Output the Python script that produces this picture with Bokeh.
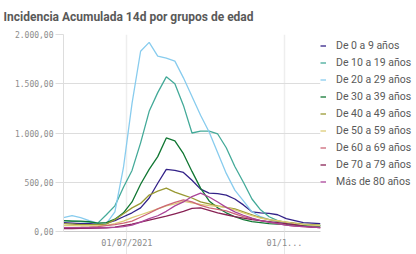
import pandas as pd
from datetime import datetime
from bokeh.plotting import figure
from bokeh.models import (Range1d, FixedTicker, CustomJSTickFormatter, Legend,
                          LegendItem, ColumnDataSource)
from bokeh.embed import file_html
from bokeh.resources import INLINE

# ---------------- data (every 5 days) ----------------
dates = pd.date_range("2021-05-25", periods=31, freq="5D")

g0_9 = [90, 85, 80, 80, 75, 85, 110, 150, 190, 240, 340, 490, 630, 620, 600, 520,
        430, 390, 385, 370, 330, 270, 200, 190, 185, 170, 130, 110, 90, 85, 80]
g10_19 = [110, 105, 100, 95, 85, 170, 260, 450, 620, 900, 1220, 1410, 1570, 1500, 1280, 1000,
          1020, 1020, 990, 850, 660, 500, 330, 220, 150, 110, 90, 80, 70, 65, 60]
g20_29 = [140, 160, 140, 110, 85, 80, 200, 650, 1300, 1830, 1920, 1780, 1760, 1730, 1560, 1370,
          1180, 1010, 800, 590, 420, 310, 200, 150, 120, 100, 80, 75, 70, 65, 60]
g30_39 = [110, 105, 105, 100, 85, 90, 125, 190, 300, 480, 630, 760, 950, 920, 790, 610,
          440, 310, 240, 190, 150, 120, 100, 90, 80, 75, 70, 65, 60, 55, 55]
g40_49 = [80, 75, 70, 70, 70, 75, 120, 180, 240, 285, 370, 410, 440, 400, 370, 340,
          300, 280, 260, 245, 230, 200, 170, 140, 120, 105, 95, 85, 75, 70, 65]
g50_59 = [60, 60, 58, 58, 58, 62, 80, 105, 140, 170, 200, 230, 260, 280, 305, 290,
          275, 262, 255, 245, 220, 190, 160, 135, 120, 110, 95, 80, 70, 65, 60]
g60_69 = [40, 40, 42, 45, 50, 60, 70, 85, 105, 145, 185, 230, 265, 295, 320, 300,
          265, 240, 225, 210, 180, 150, 130, 110, 95, 80, 65, 55, 50, 45, 40]
g70_79 = [30, 30, 32, 33, 35, 38, 45, 60, 75, 95, 115, 135, 155, 180, 205, 235,
          240, 215, 190, 170, 150, 135, 120, 110, 100, 90, 80, 70, 55, 45, 40]
g80 = [40, 40, 40, 38, 38, 40, 42, 50, 65, 95, 130, 160, 205, 260, 300, 355,
       390, 350, 300, 245, 200, 165, 135, 110, 95, 80, 65, 55, 50, 45, 40]

series_names = ["De 0 a 9 años", "De 10 a 19 años", "De 20 a 29 años", "De 30 a 39 años",
                "De 40 a 49 años", "De 50 a 59 años", "De 60 a 69 años", "De 70 a 79 años",
                "Más de 80 años"]
series_values = [g0_9, g10_19, g20_29, g30_39, g40_49, g50_59, g60_69, g70_79, g80]
colors = ["#332288", "#44aa99", "#88ccee", "#117733", "#999933", "#ddcc77",
          "#cc6677", "#882255", "#aa4499"]

y_ticks = [0, 500, 1000, 1500, 2000]
y_tick_labels = ["0,00", "500,00", "1.000,00", "1.500,00", "2.000,00"]
x_tick_dates = [datetime(2021, 7, 1), datetime(2021, 10, 1)]

# ---------------- figure ----------------
p = figure(frame_width=257, frame_height=197, output_backend="svg", toolbar_location=None,
           x_axis_type="datetime",
           x_range=Range1d(datetime(2021, 5, 25), datetime(2021, 10, 22)),
           y_range=Range1d(0, 2000),
           min_border_left=63, min_border_right=0, min_border_top=34, min_border_bottom=23)
p.outline_line_color = None
p.background_fill_color = "white"
p.border_fill_color = "white"

p.title.text = "Incidencia Acumulada 14d por grupos de edad"
p.title.text_font = "Roboto"
p.title.text_font_size = "12px"
p.title.text_font_style = "bold"
p.title.text_color = "#595959"
p.title.align = "left"
p.title.vertical_align = "top"
p.title.offset = -60
p.title.standoff = 17

renderers = []
for name, vals, col in zip(series_names, series_values, colors):
    src = ColumnDataSource(dict(x=list(dates), y=vals))
    r = p.line("x", "y", source=src, line_color=col, line_width=1.3)
    renderers.append((name, r))

# axes
xa = p.xaxis[0]
xa.ticker = FixedTicker(ticks=[d.timestamp() * 1000 for d in x_tick_dates])
xa.formatter = CustomJSTickFormatter(code="""
const d = new Date(tick);
const s = String(d.getUTCDate()).padStart(2,'0') + '/' + String(d.getUTCMonth()+1).padStart(2,'0') + '/' + d.getUTCFullYear();
return index == ticks.length - 1 ? s.slice(0, 4) + '...' : s;
""")
xa.minor_tick_line_color = None
xa.major_tick_in = 0
xa.major_tick_out = 23
xa.major_tick_line_color = "#e6e6e6"
xa.axis_line_color = "#cccccc"
xa.major_label_standoff = -17
xa.major_label_text_align = "left"
xa.major_label_text_font = "DejaVu Sans Mono"
xa.major_label_text_font_size = "8.5px"
xa.major_label_text_color = "#8c8c8c"

ya = p.yaxis[0]
ya.ticker = FixedTicker(ticks=y_ticks)
ya.major_label_overrides = dict(zip(y_ticks, y_tick_labels))
ya.minor_tick_line_color = None
ya.major_tick_in = 0
ya.major_tick_out = 8
ya.major_tick_line_color = "#dddddd"
ya.axis_line_color = "#dddddd"
ya.major_label_standoff = 2
ya.major_label_text_font = "DejaVu Sans Mono"
ya.major_label_text_font_size = "8px"
ya.major_label_text_color = "#8c8c8c"

p.xgrid.grid_line_color = "#eeeeee"
p.xgrid.grid_line_width = 1.5
p.ygrid.grid_line_color = "#dddddd"
p.ygrid.grid_line_width = 1

legend = Legend(items=[LegendItem(label=n, renderers=[r]) for n, r in renderers],
                location="top_left")
legend.title = " "
legend.title_text_font_size = "3px"
legend.title_standoff = 1
legend.border_line_color = None
legend.background_fill_alpha = 0
legend.padding = 4
legend.margin = 0
legend.spacing = 4
legend.label_height = 13
legend.glyph_height = 13
legend.glyph_width = 6
legend.label_standoff = 10
legend.label_text_font = "Roboto"
legend.label_text_font_size = "10.5px"
legend.label_text_color = "#595959"
p.add_layout(legend, "right")

open("out.html", "w").write(file_html(p, INLINE))
